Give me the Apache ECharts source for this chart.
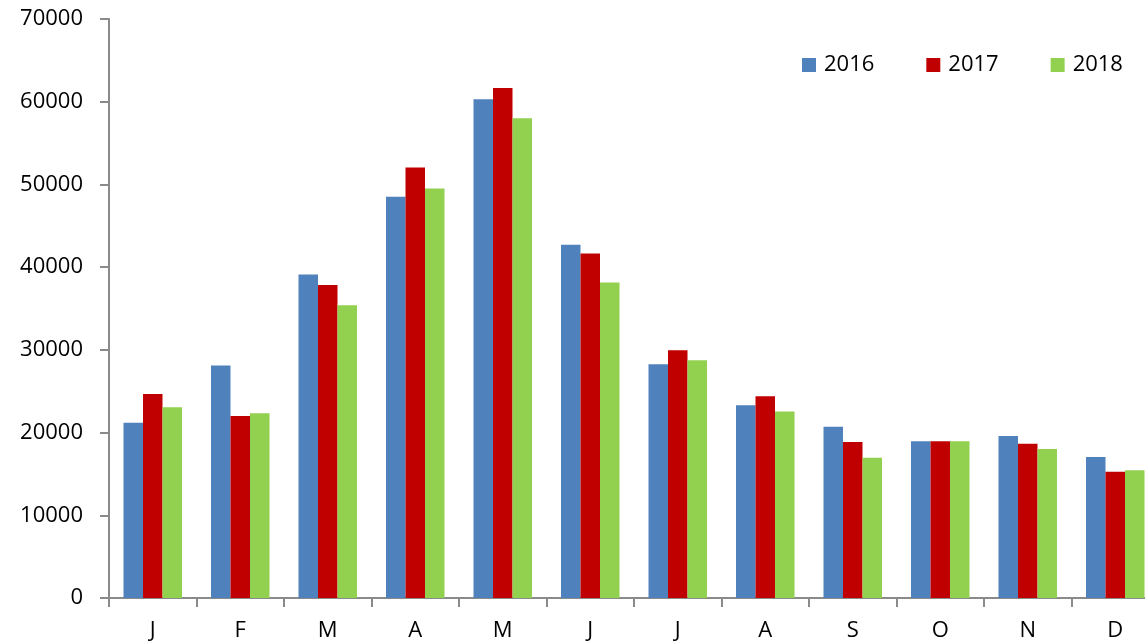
<!DOCTYPE html>
<html>
<head>
<meta charset="utf-8">
<script src="https://cdn.jsdelivr.net/npm/echarts@6/dist/echarts.min.js"></script>
<style>
  html, body { margin: 0; padding: 0; background: #fff; }
  #chart { width: 1145px; height: 643px; }
</style>
</head>
<body>
<div id="chart"></div>
<script>
// months (Jan..Dec)
const months = ['J', 'F', 'M', 'A', 'M', 'J', 'J', 'A', 'S', 'O', 'N', 'D']
const values2016 = [21200, 28100, 39100, 48500, 60300, 42700, 28250, 23300, 20700, 18950, 19600, 17050]
const values2017 = [24650, 22000, 37850, 52050, 61650, 41650, 29950, 24400, 18850, 18950, 18650, 15250]
const values2018 = [23050, 22350, 35400, 49500, 58000, 38150, 28750, 22550, 16950, 18950, 18000, 15450]

const axisGrey = '#8a8a8a'
const font = '"Open Sans", "Noto Sans", sans-serif'

const chart = echarts.init(document.getElementById('chart'))

const option = {
  backgroundColor: '#fff',
  animation: false,
  // plot runs past the right edge of the picture (last category is cut off)
  grid: { left: 109, top: 19, bottom: 45, width: 1050, outerBoundsMode: 'none' },
  legend: {
    data: ['2016', '2017', '2018'],
    left: 802,
    top: 54,
    padding: 0,
    icon: 'rect',
    itemWidth: 14,
    itemHeight: 14,
    itemGap: 52,
    textStyle: { fontFamily: font, fontSize: 22, color: '#000', padding: [0, 0, 0, 3] }
  },
  xAxis: {
    type: 'category',
    data: months,
    axisLine: { lineStyle: { color: axisGrey, width: 2 } },
    axisTick: { show: true, length: 9, lineStyle: { color: axisGrey, width: 2 } },
    axisLabel: { color: '#000', fontFamily: font, fontSize: 22, margin: 22 }
  },
  yAxis: {
    type: 'value',
    min: 0,
    max: 70000,
    interval: 10000,
    splitLine: { show: false },
    axisLine: { show: true, lineStyle: { color: axisGrey, width: 2 } },
    axisTick: { show: true, length: 9, lineStyle: { color: axisGrey, width: 2 } },
    axisLabel: { color: '#000', fontFamily: font, fontSize: 22, margin: 26, formatter: (v) => String(v) }
  },
  series: [
    { name: '2016', type: 'bar', data: values2016, barWidth: 19.5, barGap: '0%', itemStyle: { color: '#4f81bd' } },
    { name: '2017', type: 'bar', data: values2017, barWidth: 19.5, barGap: '0%', itemStyle: { color: '#c00000' } },
    { name: '2018', type: 'bar', data: values2018, barWidth: 19.5, barGap: '0%', itemStyle: { color: '#92d050' } }
  ]
}

chart.setOption(option)
</script>
</body>
</html>
